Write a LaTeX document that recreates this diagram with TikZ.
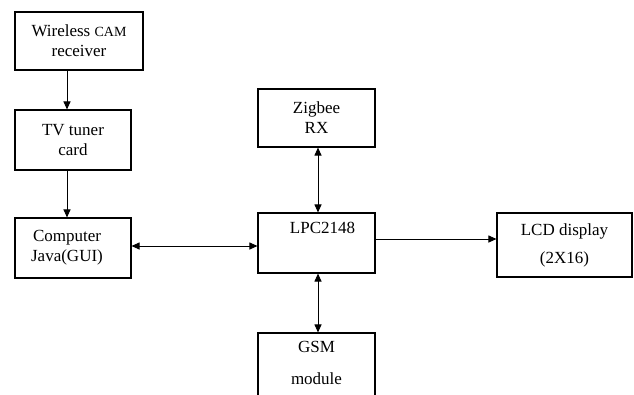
\documentclass[tikz,border=0pt]{standalone}
\usepackage{fontspec}
\setmainfont{Liberation Serif}
\usetikzlibrary{positioning, arrows.meta, calc}

\begin{document}
\begin{tikzpicture}[
    x=1pt, y=-1pt,
    every node/.style={font=\fontsize{17}{20}\selectfont},
    block/.style={draw, line width=1.1pt, inner sep=0pt, align=center},
    link/.style={line width=1pt, -{Triangle[length=8pt,width=7pt]}},
    dlink/.style={line width=1pt, {Triangle[length=8pt,width=7pt]}-{Triangle[length=8pt,width=7pt]}},
  ]
  \clip (0,0) rectangle (634,394);

  % left column
  \node[block, minimum width=128pt, minimum height=58pt] (cam) at (79,41)
    {Wireless {\fontsize{14}{20}\selectfont CAM}\\receiver};
  \node[block, minimum width=116pt, minimum height=60pt] (tv) at (73,140)
    {TV tuner\\card};
  \node[block, minimum width=116pt, minimum height=60pt] (pc) at (73,248)
    {\hspace*{-12pt}Computer\\\hspace*{-12pt}Java(GUI)};

  % middle column
  \node[block, minimum width=117pt, minimum height=58pt] (zig) at (316.5,118)
    {Zigbee\\RX};
  \node[block, minimum width=117pt, minimum height=60pt] (lpc) at (316.5,243) {};
  \node[anchor=base, inner sep=0pt] (lpctxt) at ([xshift=6pt,yshift=-21pt]lpc.north) {LPC2148};
  \node[block, minimum width=117pt, minimum height=80pt] (gsm) at (316.5,373) {};
  \node[anchor=north, inner sep=0pt, align=center, font=\fontsize{17}{32}\selectfont]
    (gsmtxt) at ([yshift=-9pt]gsm.north) {GSM\\module};

  % right
  \node[block, minimum width=135pt, minimum height=64pt,
    font=\fontsize{17}{28}\selectfont] (lcd) at (564.5,245) {LCD display\\(2X16)};

  \coordinate (ax) at (67,0);
  \coordinate (bx) at (318,0);
  \coordinate (hy) at (0,246);
  \coordinate (ly) at (0,239);

  \draw[link] (cam.south -| ax) -- (tv.north -| ax);
  \draw[link] (tv.south -| ax) -- (pc.north -| ax);
  \draw[dlink] (pc.east |- hy) -- (lpc.west |- hy);
  \draw[dlink] (zig.south -| bx) -- (lpc.north -| bx);
  \draw[dlink] (lpc.south -| bx) -- (gsm.north -| bx);
  \draw[link] (lpc.east |- ly) -- (lcd.west |- ly);
\end{tikzpicture}
\end{document}
